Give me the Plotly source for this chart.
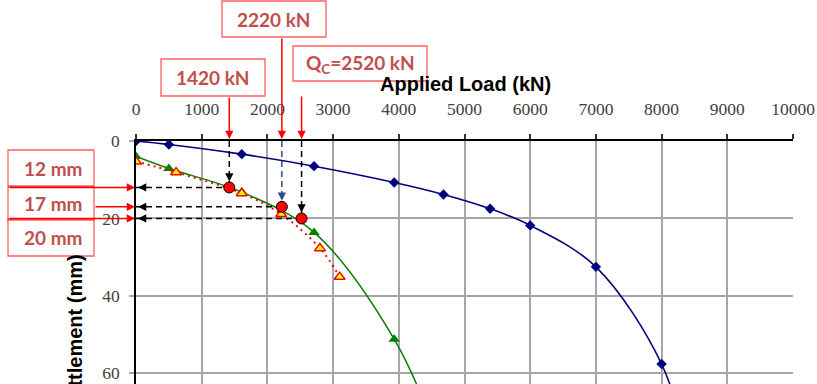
import plotly.graph_objects as go

# ---- data -------------------------------------------------------------
# pile A (blue diamonds)
load_a = [0, 500, 1610, 2710, 3930, 4680, 5390, 6000, 7000, 8000, 8400]
settle_a = [0, 0.9, 3.4, 6.5, 10.7, 13.8, 17.5, 21.8, 32.5, 57.6, 80]

# pile B (green triangles)
load_b = [0, 500, 1610, 2710, 3930, 4680]
settle_b = [4.0, 7.1, 13.2, 23.6, 51.2, 80]

# pile C (yellow triangles, dotted)
load_c = [0, 610, 1610, 2210, 2800, 3100]
settle_c = [5.3, 8.1, 13.5, 18.9, 27.7, 35.1]

# reading points picked off curve B
read_load = [1420, 2220, 2520]
read_settle = [12, 17, 20]
read_load_labels = ["1420 kN", "2220 kN", "Q<sub>C</sub>=2520 kN"]
read_settle_labels = ["12 mm", "17 mm", "20 mm"]

x_ticks = list(range(0, 10001, 1000))
x_tick_text = [str(v) for v in x_ticks]
y_ticks = [0, 20, 40, 60]

# ---- layout geometry (pixels) ----------------------------------------
W, H = 817, 384
L, R, T, B = 136, 793, 141, 384


def px(x):
    return (x - L) / (R - L)


def py(y):
    return (B - y) / (B - T)


fig = go.Figure()

fig.add_trace(go.Scatter(
    x=load_a, y=settle_a, mode="lines+markers",
    line=dict(color="#000080", width=1.6, shape="spline"),
    marker=dict(symbol="diamond", size=8, color="#000080"),
    cliponaxis=True, showlegend=False))

fig.add_trace(go.Scatter(
    x=load_b, y=settle_b, mode="lines+markers",
    line=dict(color="#008000", width=1.5, shape="spline"),
    marker=dict(symbol="triangle-up", size=10, color="#008000"),
    cliponaxis=True, showlegend=False))

fig.add_trace(go.Scatter(
    x=load_c, y=settle_c, mode="lines+markers",
    line=dict(color="#FF0000", width=2, shape="spline", dash="2px,4px"),
    marker=dict(symbol="triangle-up", size=9.5, color="#FFFF00",
                line=dict(color="#FF0000", width=1.5)),
    cliponaxis=True, showlegend=False))

# dashed guide lines from each reading point to the axes
vcolors = ["black", "#2E4C8C", "black"]
for xl, ys, vc in zip(read_load, read_settle, vcolors):
    fig.add_trace(go.Scatter(
        x=[0, xl], y=[ys, ys], mode="lines",
        line=dict(color="black", width=1.5, dash="6px,4px"),
        showlegend=False, hoverinfo="skip"))
    fig.add_trace(go.Scatter(
        x=[xl, xl], y=[0, ys], mode="lines",
        line=dict(color=vc, width=1.5, dash="6px,4px"),
        showlegend=False, hoverinfo="skip"))

fig.add_trace(go.Scatter(
    x=read_load, y=read_settle, mode="markers",
    marker=dict(symbol="circle", size=11, color="#FF0000",
                line=dict(color="black", width=1)),
    showlegend=False))

annotations = []
shapes = []

# arrow heads on the dashed guides
for xl, ys, vc in zip(read_load, read_settle, vcolors):
    annotations.append(dict(
        x=0, y=ys, xref="x", yref="y", text="", showarrow=True,
        ax=11, ay=0, arrowhead=2, arrowsize=1.1, arrowwidth=1.5,
        arrowcolor="black", standoff=2))
    annotations.append(dict(
        x=xl, y=ys, xref="x", yref="y", text="", showarrow=True,
        ax=0, ay=-13, arrowhead=2, arrowsize=1.1, arrowwidth=1.5,
        arrowcolor=vc, standoff=6))

# callout boxes (pixel extents) and their red arrows
box_color = "rgba(255,40,40,0.75)"
text_font = dict(family="Lato", size=19, color="#C0504D", weight="bold")

load_boxes = [(161, 59, 265, 96), (222, 1, 326, 37), (293, 46, 427, 81)]
load_arrow_start = [96, 37, 95]
for (x0, y0, x1, y1), lbl, xl, ys0 in zip(load_boxes, read_load_labels,
                                         read_load, load_arrow_start):
    shapes.append(dict(type="rect", xref="paper", yref="paper",
                       x0=px(x0), x1=px(x1), y0=py(y1), y1=py(y0),
                       line=dict(color=box_color, width=1.3)))
    annotations.append(dict(
        x=px((x0 + x1) / 2), y=py((y0 + y1) / 2), xref="paper", yref="paper",
        text=lbl, showarrow=False, font=text_font,
        xanchor="center", yanchor="middle"))
    annotations.append(dict(
        x=xl, y=0, xref="x", yref="y", text="", showarrow=True,
        ax=0, ay=-(T - ys0), arrowhead=2, arrowsize=1.1, arrowwidth=1.5,
        arrowcolor="#FF0000", standoff=2))

settle_boxes = [(8, 150, 94, 186), (8, 187, 94, 220), (8, 219, 94, 256)]
settle_arrow_start = [8, 94, 8]
for (x0, y0, x1, y1), lbl, ys, xs0 in zip(settle_boxes, read_settle_labels,
                                         read_settle, settle_arrow_start):
    shapes.append(dict(type="rect", xref="paper", yref="paper",
                       x0=px(x0), x1=px(x1), y0=py(y1), y1=py(y0),
                       line=dict(color=box_color, width=1.3)))
    annotations.append(dict(
        x=px(53), y=py((y0 + y1) / 2), xref="paper", yref="paper",
        text=lbl, showarrow=False, font=text_font,
        xanchor="center", yanchor="middle"))
    annotations.append(dict(
        x=0, y=ys, xref="x", yref="y", text="", showarrow=True,
        ax=-(L - xs0), ay=0, arrowhead=2, arrowsize=1.1, arrowwidth=1.5,
        arrowcolor="#FF0000", standoff=1))

# axis titles
title_font = dict(family="Liberation Sans", size=20, color="black",
                  weight="bold")
annotations.append(dict(
    x=px(465.5), y=py(84), xref="paper", yref="paper",
    text="Applied Load (kN)", showarrow=False, font=title_font,
    xanchor="center", yanchor="middle"))
annotations.append(dict(
    x=px(75), y=py(333), xref="paper", yref="paper",
    text="Settlement (mm)", showarrow=False, font=title_font,
    textangle=-90, xanchor="center", yanchor="middle"))

tick_font = dict(family="Liberation Serif", size=17.5, color="#404040")
grid = "#A6A6A6"

fig.update_layout(
    width=W, height=H,
    margin=dict(l=L, r=W - R, t=T, b=H - B, pad=0),
    paper_bgcolor="white", plot_bgcolor="white",
    showlegend=False,
    shapes=shapes, annotations=annotations,
    xaxis=dict(side="top", range=[0, 10000], tickvals=x_ticks,
               ticktext=x_tick_text,
               showline=True, linecolor="black", linewidth=1.5,
               ticks="outside", ticklen=5, tickwidth=1.5, tickcolor="#333",
               showgrid=True, gridcolor=grid, gridwidth=1.5,
               zeroline=False, tickfont=tick_font, ticklabelstandoff=12),
    yaxis=dict(range=[62.76, 0], tickvals=y_ticks,
               showline=True, linecolor="black", linewidth=1.5,
               ticks="outside", ticklen=5, tickwidth=1.5, tickcolor=grid,
               showgrid=True, gridcolor=grid, gridwidth=1.5,
               zeroline=False, tickfont=tick_font, ticklabelstandoff=6),
)

fig.write_html("out.html")
